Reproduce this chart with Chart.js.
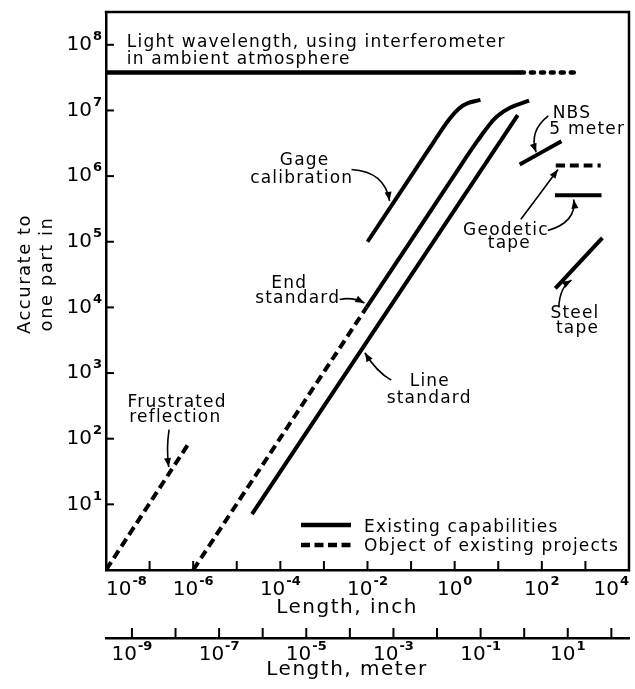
<!DOCTYPE html>
<html>
<head>
<meta charset="utf-8">
<script src="https://cdn.jsdelivr.net/npm/chart.js@4.4.0/dist/chart.umd.min.js"></script>
<style>
  html, body { margin: 0; padding: 0; background: #ffffff; }
  #wrap { width: 635px; height: 689px; }
</style>
</head>
<body>
<div id="wrap"><canvas id="lengthChart" width="635" height="689"></canvas></div>
<script>
// Axis decades and the exponents printed under them
const inchTicks = [1e-7, 1e-6, 1e-5, 1e-4, 1e-3, 1e-2, 1e-1, 1e0, 1e1, 1e2, 1e3];
const inchLabels = [[1e-8, '-8'], [1e-6, '-6'], [1e-4, '-4'], [1e-2, '-2'], [1e0, '0'], [1e2, '2'], [1e4, '4']];
const meterTicks = [1e-9, 1e-8, 1e-7, 1e-6, 1e-5, 1e-4, 1e-3, 1e-2, 1e-1, 1e0, 1e1, 1e2];
const meterLabels = [[1e-9, '-9'], [1e-7, '-7'], [1e-5, '-5'], [1e-3, '-3'], [1e-1, '-1'], [1e1, '1']];
const ratioTicks = [1e1, 1e2, 1e3, 1e4, 1e5, 1e6, 1e7, 1e8];
const ratioLabels = [[1e1, '1'], [1e2, '2'], [1e3, '3'], [1e4, '4'], [1e5, '5'], [1e6, '6'], [1e7, '7'], [1e8, '8']];

// Series (length in inch, accurate to one part in)
const lightX = [1e-8, 33];
const lightY = [3.8e7, 3.8e7];
const lightPlanX = [33, 780];
const lightPlanY = [3.8e7, 3.8e7];

const gageX = [0.01, 0.25, 0.45, 0.76, 1.26, 2.0, 3.9];
const gageY = [1.0e5, 2.5e6, 4.5e6, 7.4e6, 1.07e7, 1.29e7, 1.45e7];

const endX = [0.0095, 1.26, 2.0, 3.3, 5.6, 9.3, 18.6, 51];
const endY = [1.0e4, 1.32e6, 2.1e6, 3.4e6, 5.5e6, 8.1e6, 1.1e7, 1.41e7];
const endPlanX = [1e-6, 0.0095];
const endPlanY = [1, 1.0e4];

const lineStdX = [2.24e-5, 28];
const lineStdY = [7.1, 8.5e6];

const frustX = [1e-8, 8.3e-7];
const frustY = [1, 89];

const nbsX = [31, 282];
const nbsY = [1.5e6, 3.4e6];

const geoPlanX = [209, 2240];
const geoPlanY = [1.45e6, 1.45e6];
const geoX = [200, 2340];
const geoY = [5.1e5, 5.1e5];

const steelX = [204, 2450];
const steelY = [1.95e4, 1.15e5];

// Labels placed in data units
const notes = [
    { text: 'Light wavelength, using interferometer', x: 3.0e-8, y: 1.1e8, align: 'left' },
    { text: 'in ambient atmosphere', x: 3.0e-8, y: 5.9e7, align: 'left' },
    { text: 'Gage', x: 3.6e-4, y: 1.7e6 },
    { text: 'calibration', x: 3.1e-4, y: 9.3e5 },
    { text: 'End', x: 1.6e-4, y: 2.3e4 },
    { text: 'standard', x: 2.5e-4, y: 1.38e4 },
    { text: 'Line', x: 0.27, y: 740 },
    { text: 'standard', x: 0.26, y: 410 },
    { text: 'Frustrated', x: 4.3e-7, y: 350 },
    { text: 'reflection', x: 3.9e-7, y: 210 },
    { text: 'NBS', x: 490, y: 9.1e6 },
    { text: '5 meter', x: 1100, y: 5.1e6 },
    { text: 'Geodetic', x: 15, y: 1.5e5 },
    { text: 'tape', x: 18, y: 9.3e4 },
    { text: 'Steel', x: 575, y: 8.1e3 },
    { text: 'tape', x: 660, y: 4.7e3 }
];

// Arrows: start, bend, tip
const arrows = [
    [[4.3e-3, 1.26e6], [0.025, 1.17e6], [0.032, 4.2e5]],
    [[2.3e-3, 1.32e4], [4.5e-3, 1.45e4], [8.5e-3, 1.17e4]],
    [[0.035, 780], [0.016, 1050], [8.7e-3, 2040]],
    [[2.8e-7, 138], [2.4e-7, 71], [2.75e-7, 37]],
    [[141, 8.3e6], [50, 4.9e6], [74, 2.3e6]],
    [[33, 2.2e5], [90, 5.3e5], [234, 1.26e6]],
    [[138, 1.48e5], [630, 2.0e5], [540, 4.4e5]],
    [[245, 1.0e4], [257, 2.04e4], [480, 2.6e4]]
];

const ink = '#000000';
const font = '"DejaVu Sans", sans-serif';

function pts(xs, ys) {
    return xs.map(function(x, i) { return { x: x, y: ys[i] }; });
}

function series(xs, ys, dash) {
    return {
        data: pts(xs, ys),
        borderColor: ink,
        borderWidth: 4,
        borderDash: dash || [],
        borderCapStyle: 'butt',
        pointRadius: 0,
        tension: 0.4,
        fill: false
    };
}

function drawPower(ctx, exp, x, y, align, lo, hi) {
    ctx.font = '20px ' + font;
    const wb = ctx.measureText('10').width;
    ctx.font = 'bold 13px ' + font;
    const we = ctx.measureText(exp).width;
    const w = wb + 1 + we;
    let x0 = align === 'right' ? x - w : x - w / 2;
    if (lo !== undefined) x0 = Math.max(lo, Math.min(x0, hi - w));
    ctx.font = '20px ' + font;
    ctx.fillText('10', x0, y);
    ctx.font = 'bold 13px ' + font;
    ctx.fillText(exp, x0 + wb + 1, y - 8);
}

function seg(ctx, x1, y1, x2, y2) {
    ctx.beginPath();
    ctx.moveTo(x1, y1);
    ctx.lineTo(x2, y2);
    ctx.stroke();
}

const decor = {
    id: 'decor',
    afterDraw(chart) {
        const ctx = chart.ctx;
        const a = chart.chartArea;
        const sx = chart.scales.x, sy = chart.scales.y, sm = chart.scales.x2;
        ctx.save();
        ctx.strokeStyle = ink;
        ctx.fillStyle = ink;

        // top and right edges of the frame
        ctx.lineWidth = 2.5;
        ctx.lineCap = 'square';
        ctx.beginPath();
        ctx.moveTo(a.left, a.top);
        ctx.lineTo(a.right, a.top);
        ctx.lineTo(a.right, a.bottom);
        ctx.stroke();

        // inward tick marks
        ctx.lineWidth = 2;
        ctx.lineCap = 'butt';
        ratioTicks.forEach(function(v) {
            const y = sy.getPixelForValue(v);
            seg(ctx, a.left, y, a.left + 8, y);
        });
        inchTicks.forEach(function(v) {
            const x = sx.getPixelForValue(v);
            seg(ctx, x, a.bottom, x, a.bottom - 9);
        });
        meterTicks.forEach(function(v) {
            const x = sm.getPixelForValue(v);
            seg(ctx, x, sm.top, x, sm.top - 10);
        });

        // tick labels
        ctx.letterSpacing = '0px';
        ctx.textAlign = 'left';
        ctx.textBaseline = 'middle';
        ratioLabels.forEach(function(t) {
            drawPower(ctx, t[1], a.left - 4, sy.getPixelForValue(t[0]), 'right');
        });
        inchLabels.forEach(function(t) {
            drawPower(ctx, t[1], sx.getPixelForValue(t[0]), a.bottom + 20, 'center', a.left, a.right);
        });
        meterLabels.forEach(function(t) {
            drawPower(ctx, t[1], sm.getPixelForValue(t[0]), sm.top + 17, 'center');
        });

        // axis titles
        ctx.textAlign = 'center';
        ctx.letterSpacing = '1.5px';
        ctx.font = '20px ' + font;
        ctx.fillText('Length, inch', a.left + 241, a.bottom + 38);
        ctx.fillText('Length, meter', a.left + 241, sm.top + 32);
        ctx.font = '18px ' + font;
        ctx.save();
        ctx.translate(25, 274);
        ctx.rotate(-Math.PI / 2);
        ctx.fillText('Accurate to', 0, 0);
        ctx.fillText('one part in', 0, 22);
        ctx.restore();

        // annotation texts
        ctx.font = '17px ' + font;
        ctx.letterSpacing = '1.2px';
        notes.forEach(function(n) {
            ctx.textAlign = n.align || 'center';
            ctx.fillText(n.text, sx.getPixelForValue(n.x), sy.getPixelForValue(n.y));
        });

        // arrows
        ctx.lineWidth = 1.6;
        arrows.forEach(function(ar) {
            const p = ar.map(function(q) { return [sx.getPixelForValue(q[0]), sy.getPixelForValue(q[1])]; });
            ctx.beginPath();
            ctx.moveTo(p[0][0], p[0][1]);
            ctx.quadraticCurveTo(p[1][0], p[1][1], p[2][0], p[2][1]);
            ctx.stroke();
            const ang = Math.atan2(p[2][1] - p[1][1], p[2][0] - p[1][0]);
            ctx.beginPath();
            ctx.moveTo(p[2][0], p[2][1]);
            ctx.lineTo(p[2][0] - 9 * Math.cos(ang) + 3.5 * Math.sin(ang), p[2][1] - 9 * Math.sin(ang) - 3.5 * Math.cos(ang));
            ctx.lineTo(p[2][0] - 9 * Math.cos(ang) - 3.5 * Math.sin(ang), p[2][1] - 9 * Math.sin(ang) + 3.5 * Math.cos(ang));
            ctx.closePath();
            ctx.fill();
        });

        // legend
        ctx.lineWidth = 4.5;
        seg(ctx, a.left + 195, a.bottom - 45, a.left + 245, a.bottom - 45);
        ctx.setLineDash([9, 4.5]);
        seg(ctx, a.left + 195, a.bottom - 25, a.left + 245, a.bottom - 25);
        ctx.setLineDash([]);
        ctx.textAlign = 'left';
        ctx.fillText('Existing capabilities', a.left + 258, a.bottom - 42);
        ctx.fillText('Object of existing projects', a.left + 258, a.bottom - 23);

        ctx.restore();
    }
};

Chart.defaults.font.family = font;
Chart.defaults.color = ink;

const lightPlan = series(lightPlanX, lightPlanY, [3, 7]);
lightPlan.borderCapStyle = 'round';
lightPlan.borderWidth = 4.5;
const light = series(lightX, lightY);
light.borderWidth = 4.5;

new Chart(document.getElementById('lengthChart').getContext('2d'), {
    type: 'line',
    data: {
        datasets: [
            light,
            lightPlan,
            series(gageX, gageY),
            series(endX, endY),
            series(endPlanX, endPlanY, [9, 5]),
            series(lineStdX, lineStdY),
            series(frustX, frustY, [9, 5]),
            series(nbsX, nbsY),
            series(geoPlanX, geoPlanY, [9, 5]),
            series(geoX, geoY),
            series(steelX, steelY)
        ]
    },
    options: {
        responsive: false,
        animation: false,
        events: [],
        layout: { padding: { top: 12, right: 6, left: 0, bottom: 0 } },
        plugins: {
            legend: { display: false },
            tooltip: { enabled: false }
        },
        scales: {
            x: {
                type: 'logarithmic',
                position: 'bottom',
                weight: 0,
                min: 1e-8,
                max: 1e4,
                grid: { display: false },
                border: { display: true, color: ink, width: 2.5 },
                ticks: { display: false },
                afterFit: function(scale) { scale.height = 68; }
            },
            x2: {
                type: 'logarithmic',
                position: 'bottom',
                weight: 1,
                min: 2.54e-10,
                max: 254,
                grid: { display: false },
                border: { display: true, color: ink, width: 2.5 },
                ticks: { display: false },
                afterFit: function(scale) { scale.height = 51; }
            },
            y: {
                type: 'logarithmic',
                position: 'left',
                min: 1,
                max: 3.16e8,
                grid: { display: false },
                border: { display: true, color: ink, width: 2.5 },
                ticks: { display: false },
                afterFit: function(scale) { scale.width = 106; }
            }
        }
    },
    plugins: [decor]
});
</script>
</body>
</html>
